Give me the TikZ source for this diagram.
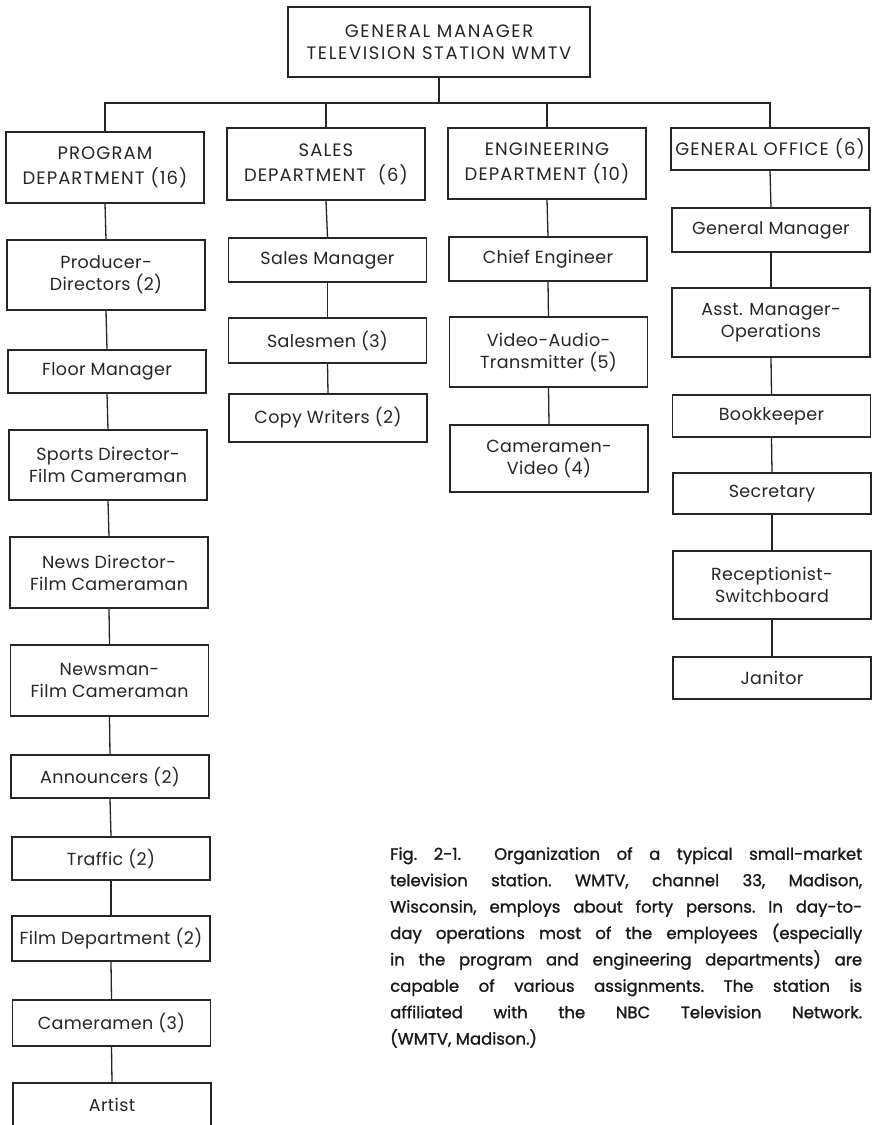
\documentclass[tikz,border=0pt]{standalone}
\usepackage{fontspec}
\setmainfont{Poppins}
\newfontfamily\boxfont[LetterSpace=2]{Poppins}
\newfontfamily\capsfont[LetterSpace=6]{Poppins}
\newfontfamily\topfont[LetterSpace=9]{Poppins}
\newfontfamily\capfont[FakeBold=1.2]{Poppins}
\begin{document}
\begin{tikzpicture}[x=1pt,y=-1pt,
  box/.style={draw=black!85, line width=1.2pt, minimum width=198pt, inner sep=0pt,
    align=center, text=black!85, font=\boxfont\fontsize{17.5}{22}\selectfont},
  capsbox/.style={box, font=\capsfont\fontsize{18}{25}\selectfont},
  link/.style={draw=black!85, line width=1.3pt}]
\fill[white] (0,0) rectangle (876,1125);
\useasboundingbox (0,0) rectangle (876,1125);

% top
\node[box, minimum width=302pt, minimum height=70pt, font=\topfont\fontsize{18}{22}\selectfont] (top) at (439,42) {GENERAL MANAGER\\TELEVISION STATION WMTV};
\coordinate (bus) at (439,103);

% departments
\node[capsbox, minimum height=71pt] (prog) at (105,167.5) {PROGRAM\\DEPARTMENT\ (16)};
\node[capsbox, minimum height=72pt] (sales) at (326,164) {SALES\\DEPARTMENT\ \ (6)};
\node[capsbox, minimum height=71pt] (eng) at (547,163.5) {ENGINEERING\\DEPARTMENT\ (10)};
\node[capsbox, minimum height=42pt] (go) at (770,149) {GENERAL OFFICE (6)};

% program column
\node[box, minimum height=70pt] (prod) at (106,275) {Producer-\\Directors (2)};
\node[box, minimum height=43pt] (floor) at (107,371.5) {Floor Manager};
\node[box, minimum height=70pt] (sports) at (108,465) {Sports Director-\\Film Cameraman};
\node[box, minimum height=71pt] (newsdir) at (109,572.5) {News Director-\\Film Cameraman};
\node[box, minimum height=71pt] (newsman) at (109.5,680.5) {Newsman-\\Film Cameraman};
\node[box, minimum height=43pt] (ann) at (110,776.5) {Announcers (2)};
\node[box, minimum height=43pt] (traffic) at (111,858.5) {Traffic (2)};
\node[box, minimum height=45pt] (film) at (111,938.5) {Film Department (2)};
\node[box, minimum height=46pt] (cam) at (111.5,1023) {Cameramen (3)};
\node[box, minimum height=44pt] (artist) at (112,1105) {Artist};

% sales column
\node[box, minimum height=44pt] (sman) at (327.5,260) {Sales Manager};
\node[box, minimum height=45pt] (salesmen) at (327.5,340.5) {Salesmen (3)};
\node[box, minimum height=48pt] (copy) at (328,418) {Copy Writers (2)};

% engineering column
\node[box, minimum height=44pt] (chief) at (548,259) {Chief Engineer};
\node[box, minimum height=70pt] (vat) at (548.5,352) {Video-Audio-\\Transmitter (5)};
\node[box, minimum height=67pt] (camv) at (549,458.5) {Cameramen-\\Video (4)};

% general office column
\node[box, minimum height=44pt] (gm) at (771,230) {General Manager};
\node[box, minimum height=69pt] (asst) at (771,322.5) {Asst. Manager-\\Operations};
\node[box, minimum height=42pt] (book) at (771.5,416) {Bookkeeper};
\node[box, minimum height=41pt] (sec) at (772,493.5) {Secretary};
\node[box, minimum height=68pt] (recep) at (772,585) {Receptionist-\\Switchboard};
\node[box, minimum height=42pt] (jan) at (772,678) {Janitor};

% connectors
\draw[link] (top.south) -- (bus);
\draw[link] (prog.north) |- (bus) -| (go.north);
\draw[link] (sales.north) -- (sales.north |- bus);
\draw[link] (eng.north) -- (eng.north |- bus);

\draw[link] (prog.south) -- (prod.north);
\draw[link] (prod.south) -- (floor.north);
\draw[link] (floor.south) -- (sports.north);
\draw[link] (sports.south) -- (newsdir.north);
\draw[link] (newsdir.south) -- (newsman.north);
\draw[link] (newsman.south) -- (ann.north);
\draw[link] (ann.south) -- (traffic.north);
\draw[link] (traffic.south) -- (film.north);
\draw[link] (film.south) -- (cam.north);
\draw[link] (cam.south) -- (artist.north);

\draw[link] (sales.south) -- (sman.north);
\draw[link] (sman.south) -- (salesmen.north);
\draw[link] (salesmen.south) -- (copy.north);

\draw[link] (eng.south) -- (chief.north);
\draw[link] (chief.south) -- (vat.north);
\draw[link] (vat.south) -- (camv.north);

\draw[link] (go.south) -- (gm.north);
\draw[link] (gm.south) -- (asst.north);
\draw[link] (asst.south) -- (book.north);
\draw[link] (book.south) -- (sec.north);
\draw[link] (sec.south) -- (recep.north);
\draw[link] (recep.south) -- (jan.north);

% caption
\node[anchor=north west, inner sep=0pt, text width=472pt, align=justify, text=black!90,
  font=\capfont\fontsize{16.5}{26.4}\selectfont] (caption) at (390,847)
{\frenchspacing\hyphenpenalty=10000 Fig. 2-1.\ \ Organization of a typical small-market\linebreak
television station. WMTV, channel 33, Madison,\linebreak
Wisconsin, employs about forty persons. In day-to-\linebreak
day operations most of the employees (especially\linebreak
in the program and engineering departments) are\linebreak
capable of various assignments. The station is\linebreak
affiliated with the NBC Television Network.\linebreak
(WMTV, Madison.)};
\end{tikzpicture}
\end{document}
